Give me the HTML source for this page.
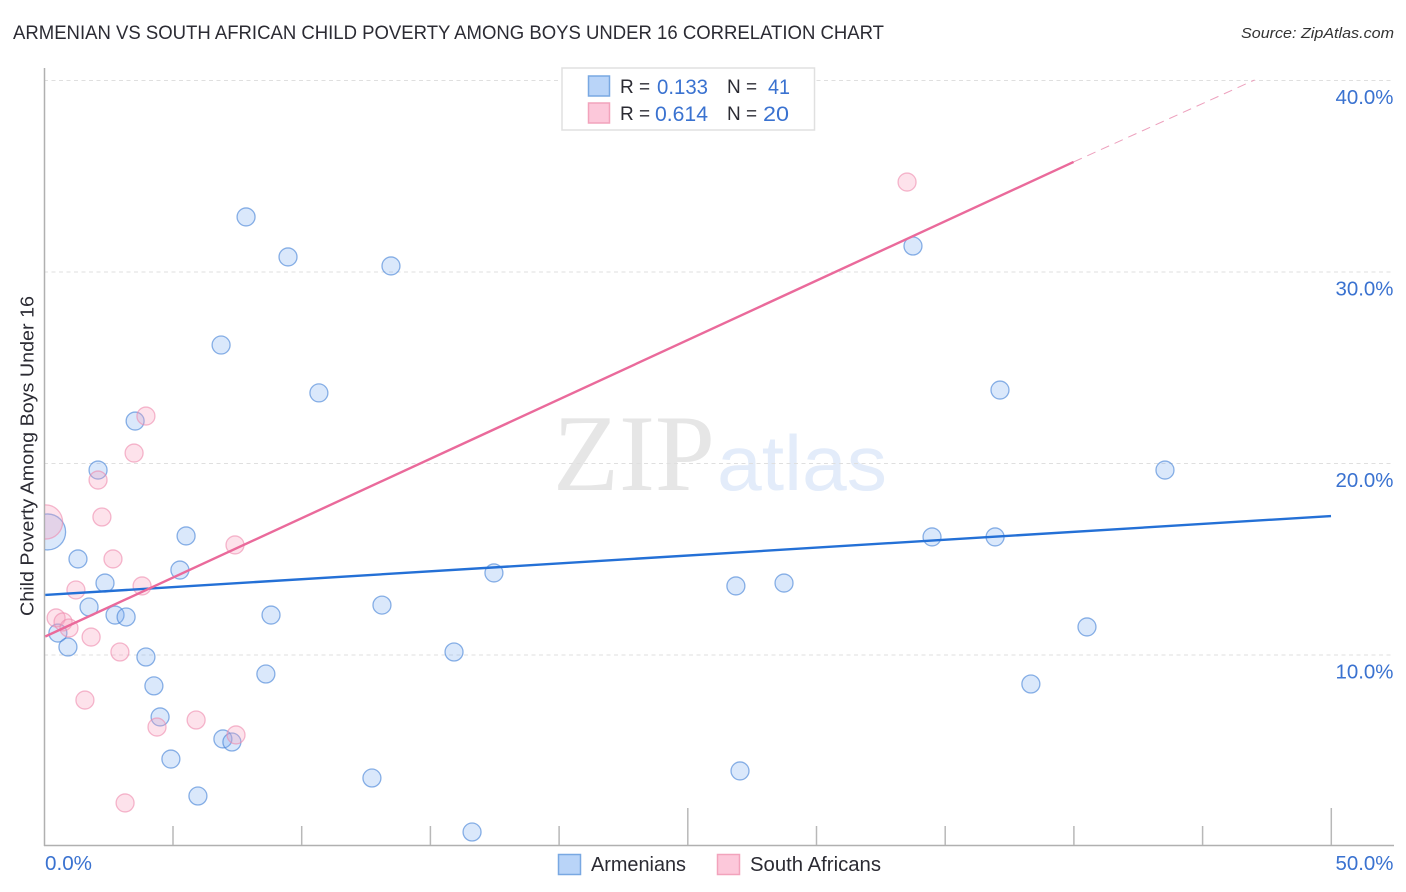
<!DOCTYPE html>
<html lang="en">
<head>
<meta charset="utf-8">
<title>Armenian vs South African Child Poverty Among Boys Under 16 Correlation Chart</title>
<style>
html,body{margin:0;padding:0;background:#fff;width:1406px;height:892px;overflow:hidden}
svg{display:block;font-family:"Liberation Sans",sans-serif}
</style>
</head>
<body>
<svg id="chart" xmlns="http://www.w3.org/2000/svg" width="1406" height="892" viewBox="0 0 1406 892">
<text x="13" y="39" font-size="19" fill="#2b2b33" textLength="871" lengthAdjust="spacingAndGlyphs">ARMENIAN VS SOUTH AFRICAN CHILD POVERTY AMONG BOYS UNDER 16 CORRELATION CHART</text>
<text x="1394" y="38" font-size="15" font-style="italic" fill="#333" text-anchor="end" textLength="153" lengthAdjust="spacingAndGlyphs">Source: ZipAtlas.com</text>
<g>
<text x="553" y="490" font-family="'Liberation Serif',serif" font-size="109" fill="#e6e6e6" textLength="162" lengthAdjust="spacingAndGlyphs">ZIP</text>
<text x="717" y="490" font-size="78" fill="#e3ecfa" textLength="170" lengthAdjust="spacingAndGlyphs">atlas</text>
</g>
<g id="grid"></g>
<g id="axes"></g>
<svg x="45" y="68" width="1350" height="778" viewBox="45 68 1350 778" overflow="hidden">
<g id="marks-blue"></g>
<g id="marks-pink"></g>
</svg>
<g id="lines"></g>
<g id="labels"></g>
<text transform="translate(33.5,456) rotate(-90)" font-size="18.5" fill="#2b2b33" text-anchor="middle" textLength="320" lengthAdjust="spacingAndGlyphs">Child Poverty Among Boys Under 16</text>
<g>
<rect x="562" y="68" width="252.5" height="62" fill="#fff" stroke="#e0e0e0" stroke-width="1.5"/>
<rect x="588.5" y="76" width="21" height="20" fill="#b9d4f8" stroke="#79a8e2" stroke-width="1.5"/>
<rect x="588.5" y="103" width="21" height="20" fill="#fcc8da" stroke="#f2a3bc" stroke-width="1.5"/>
<text x="620" y="93" font-size="19" fill="#2b2b33">R =</text>
<text x="657" y="94" font-size="21" fill="#3a72d0" textLength="51" lengthAdjust="spacingAndGlyphs">0.133</text>
<text x="727" y="93" font-size="19" fill="#2b2b33">N =</text>
<text x="768" y="94" font-size="21" fill="#3a72d0" textLength="22" lengthAdjust="spacingAndGlyphs">41</text>
<text x="620" y="120" font-size="19" fill="#2b2b33">R =</text>
<text x="655" y="121" font-size="21" fill="#3a72d0" textLength="53" lengthAdjust="spacingAndGlyphs">0.614</text>
<text x="727" y="120" font-size="19" fill="#2b2b33">N =</text>
<text x="763" y="121" font-size="21" fill="#3a72d0" textLength="26" lengthAdjust="spacingAndGlyphs">20</text>
</g>
<g>
<rect x="558.5" y="854.5" width="22" height="20" fill="#b9d4f8" stroke="#79a8e2" stroke-width="1.5"/>
<text x="591" y="871" font-size="20" fill="#2b2b33" textLength="95" lengthAdjust="spacingAndGlyphs">Armenians</text>
<rect x="717.5" y="854.5" width="22" height="20" fill="#fcc8da" stroke="#f2a3bc" stroke-width="1.5"/>
<text x="750" y="871" font-size="20" fill="#2b2b33" textLength="131" lengthAdjust="spacingAndGlyphs">South Africans</text>
</g>
</svg>
<script>
const xTickValues = [0, 5, 10, 15, 20, 25, 30, 35, 40, 45, 50];
const xMajorTicks = [25, 50];
const xTickLabels = ["0.0%", "50.0%"];
const xLabelValues = [0, 50];
const yTickValues = [10, 20, 30, 40];
const yTickLabels = ["10.0%", "20.0%", "30.0%", "40.0%"];

const armeniansX = [7.85, 9.48, 13.48, 6.88, 10.68, 3.54, 2.10, 5.52, 1.32, 5.28, 2.37, 1.75, 2.76, 3.19, 0.54, 0.93, 3.96, 4.27, 4.51, 6.95, 7.30, 4.93, 5.98, 8.62, 8.82, 13.13, 17.48, 15.93, 12.74, 16.63, 26.88, 28.75, 27.04, 33.76, 37.14, 34.50, 36.95, 43.55, 40.52, 38.34, 0.14];
const armeniansY = [32.85, 30.76, 30.29, 26.16, 23.66, 22.19, 19.63, 16.19, 14.99, 14.41, 13.73, 12.48, 12.06, 11.96, 11.12, 10.39, 9.87, 8.36, 6.74, 5.59, 5.43, 4.54, 2.61, 8.98, 12.06, 12.58, 14.26, 10.13, 3.55, 0.73, 13.58, 13.73, 3.92, 31.33, 23.81, 16.14, 16.14, 19.63, 11.44, 8.46, 16.40];
const armeniansWeight = [1, 1, 1, 1, 1, 1, 1, 1, 1, 1, 1, 1, 1, 1, 1, 1, 1, 1, 1, 1, 1, 1, 1, 1, 1, 1, 1, 1, 1, 1, 1, 1, 1, 1, 1, 1, 1, 1, 1, 1, 4];

const southAfricansX = [33.53, 3.96, 3.50, 2.10, 2.25, 0.06, 7.42, 2.68, 3.81, 1.24, 0.47, 0.74, 0.97, 1.83, 2.95, 1.59, 5.91, 4.39, 7.46, 3.15];
const southAfricansY = [34.67, 22.45, 20.52, 19.11, 17.18, 16.92, 15.72, 14.99, 13.58, 13.37, 11.91, 11.70, 11.38, 10.91, 10.13, 7.62, 6.58, 6.21, 5.80, 2.25];
const southAfricansWeight = [1, 1, 1, 1, 1, 3.6, 1, 1, 1, 1, 1, 1, 1, 1, 1, 1, 1, 1, 1, 1];

const armeniansTrendX = [0.05, 50];
const armeniansTrendY = [13.11, 17.23];
const southAfricansTrendX = [0.05, 40];
const southAfricansTrendY = [10.94, 35.72];
const southAfricansForecastX = [40, 47.03];
const southAfricansForecastY = [35.72, 40];

const NS = "http://www.w3.org/2000/svg";
function xScale(v) { return 44 + v * 25.74; }
function yScale(v) { return 846 - v * 19.15; }
function radius(w) { return 9 * Math.sqrt(w); }
function make(parent, tag, attrs) {
  const el = document.createElementNS(NS, tag);
  for (const k in attrs) el.setAttribute(k, attrs[k]);
  parent.appendChild(el);
  return el;
}

const grid = document.getElementById("grid");
yTickValues.forEach(function (v) {
  const line = make(grid, "line", { x1: 44, x2: 1394, y1: yScale(v) + 0.5, y2: yScale(v) + 0.5, stroke: "#dfdfdf", "stroke-width": 1, "stroke-dasharray": "4 3.5" });
  
  
});

const axes = document.getElementById("axes");
const yAxisLine = make(axes, "line", { x1: 44.5, x2: 44.5, y1: 68, y2: 846, stroke: "#b0b0b0", "stroke-width": 1.5 });


const xAxisLine = make(axes, "line", { x1: 44, x2: 1394, y1: 845.5, y2: 845.5, stroke: "#b0b0b0", "stroke-width": 1.5 });


xTickValues.forEach(function (v) {
  if (v === 0) return;
  const top = xMajorTicks.indexOf(v) >= 0 ? 808 : 826;
  const tick = make(axes, "line", { x1: xScale(v) + 0.3, x2: xScale(v) + 0.3, y1: top, y2: 845, stroke: "#b8b8b8", "stroke-width": 1.5 });
  
  
});

function drawPoints(groupId, xs, ys, ws, fill, stroke, name) {
  const g = document.getElementById(groupId);
  xs.forEach(function (x, i) {
    const c = make(g, "circle", { cx: xScale(x), cy: yScale(ys[i]), r: radius(ws[i]), fill: fill, stroke: stroke, "stroke-width": 1.3 });
    
    
  });
}
drawPoints("marks-blue", armeniansX, armeniansY, armeniansWeight, "rgba(120,170,240,0.27)", "rgba(70,130,215,0.62)", "armenians");
drawPoints("marks-pink", southAfricansX, southAfricansY, southAfricansWeight, "rgba(248,160,190,0.3)", "rgba(238,135,170,0.58)", "south-africans");

const lines = document.getElementById("lines");
const blueTrend = make(lines, "line", { x1: xScale(armeniansTrendX[0]), y1: yScale(armeniansTrendY[0]), x2: xScale(armeniansTrendX[1]), y2: yScale(armeniansTrendY[1]), stroke: "#2470d6", "stroke-width": 2.4 });


const pinkTrend = make(lines, "line", { x1: xScale(southAfricansTrendX[0]), y1: yScale(southAfricansTrendY[0]), x2: xScale(southAfricansTrendX[1]), y2: yScale(southAfricansTrendY[1]), stroke: "#ea6a9b", "stroke-width": 2.4 });


const pinkForecast = make(lines, "line", { x1: xScale(southAfricansForecastX[0]), y1: yScale(southAfricansForecastY[0]), x2: xScale(southAfricansForecastX[1]), y2: yScale(southAfricansForecastY[1]), stroke: "#eda0bd", "stroke-width": 1, "stroke-dasharray": "9 6" });



const labels = document.getElementById("labels");
yTickValues.forEach(function (v, i) {
  const t = make(labels, "text", { x: 1393.5, y: yScale(v) + 24, "font-size": 20, fill: "#3a72d0", "text-anchor": "end", textLength: 58, lengthAdjust: "spacingAndGlyphs" });
  t.textContent = yTickLabels[i];
  
  
});
xLabelValues.forEach(function (v, i) {
  const anchorEnd = v !== 0;
  const t = make(labels, "text", { x: anchorEnd ? 1393.5 : 45, y: 870, "font-size": 20, fill: "#3a72d0", "text-anchor": anchorEnd ? "end" : "start", textLength: anchorEnd ? 58 : 47, lengthAdjust: "spacingAndGlyphs" });
  t.textContent = xTickLabels[i];
  
  
});
</script>
</body>
</html>
